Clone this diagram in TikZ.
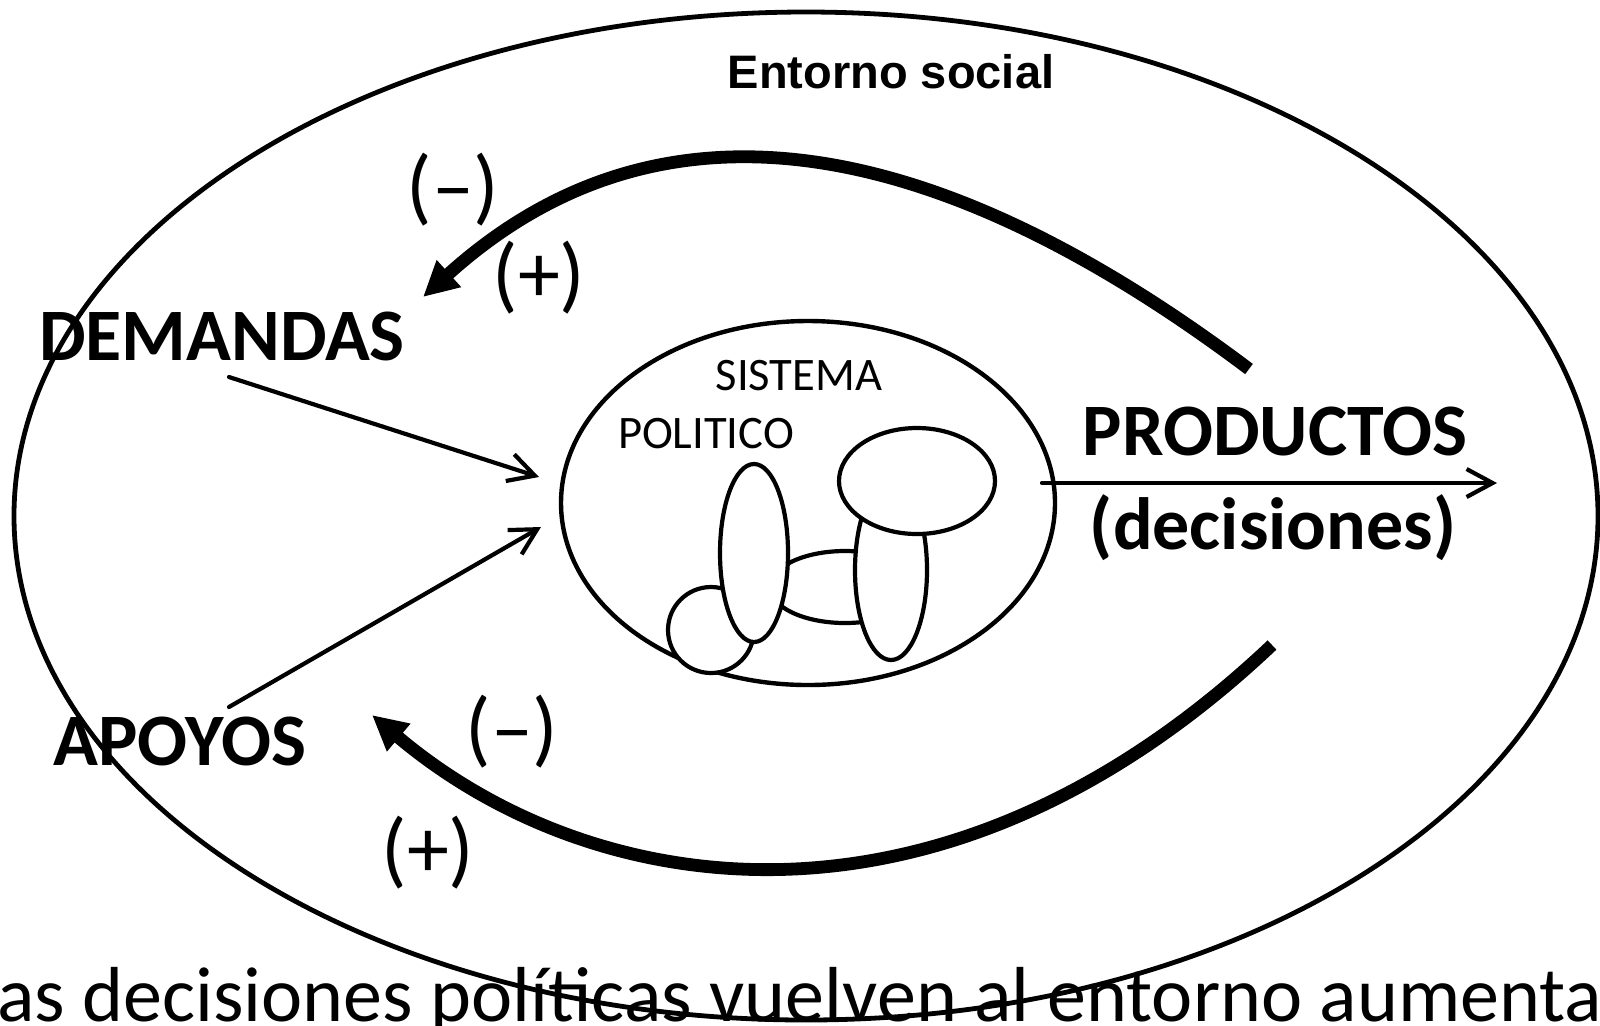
\documentclass[tikz,border=0pt]{standalone}
\usepackage{fontspec}
\setmainfont{Carlito}
\newfontfamily\arialfont{Liberation Sans}
\usetikzlibrary{arrows.meta,shapes.geometric}
\tikzset{
  outerline/.style={line width=2.4pt},
  shapeline/.style={line width=2.1pt, fill=white},
  inarrow/.style={line width=2.1pt, line cap=round, -{Straight Barb[length=13pt,width=14pt]}},
  fbarrow/.style={line width=6.4pt, -{Triangle[length=17.5pt,width=17pt]}},
  bigbold/.style={font=\bfseries\fontsize{37pt}{44pt}\selectfont, inner sep=0pt},
  smalltext/.style={font=\fontsize{23.3pt}{28pt}\selectfont, inner sep=0pt},
  signtext/.style={font=\fontsize{42pt}{50pt}\selectfont, inner sep=0pt},
  titletext/.style={font=\arialfont\bfseries\fontsize{23.5pt}{28pt}\selectfont, inner sep=0pt},
  bottomtext/.style={font=\fontsize{39pt}{46pt}\selectfont, inner sep=0pt}
}
\begin{document}
\begin{tikzpicture}[x=0.5pt,y=-0.5pt]
\useasboundingbox (0,0) rectangle (1600,1025);
\fill[white] (0,0) rectangle (1600,1025);
\begin{scope}
\clip (0,0) rectangle (1600,1025);

% outer environment ellipse
\draw[outerline] (806,516) ellipse [x radius=396pt, y radius=252pt];

% political system
\node[draw, ellipse, line width=2.2pt, minimum width=247pt, minimum height=182pt, inner sep=0pt] (sis) at (808,503) {};
\node[smalltext, anchor=base] (sistema) at (799,390) {SISTEMA};
\node[smalltext, anchor=base] (politico) at (706,448) {POLITICO};

% inner components
\draw[shapeline] (845,587) ellipse [x radius=37.5pt, y radius=18pt];
\draw[shapeline] (711,630) circle [radius=21.5pt];
\draw[shapeline] (754,553) ellipse [x radius=17pt, y radius=44.5pt];
\draw[shapeline] (891,570) ellipse [x radius=18pt, y radius=45pt];
\draw[shapeline] (917,481) ellipse [x radius=39pt, y radius=26.5pt];

% labels
\node[titletext, anchor=base] (entorno) at (891,88) {Entorno social};
\node[bigbold, anchor=base] (demandas) at (222,360) {DEMANDAS};
\node[bigbold, anchor=base] (apoyos) at (180,765) {APOYOS};
\node[bigbold, anchor=base] (productos) at (1275,455) {PRODUCTOS};
\node[bigbold, anchor=base] (decisiones) at (1273,549) {(decisiones)};
\node[signtext] (m1) at (453,190) {(–)};
\node[signtext] (p1) at (539,278) {(+)};
\node[signtext] (m2) at (512,732) {(–)};
\node[signtext] (p2) at (428,853) {(+)};
\node[bottomtext, anchor=base west] (caption) at (-36,1021) {Las decisiones políticas vuelven al entorno aumenta};

% input / output arrows
\coordinate (dStart) at (229,377);
\coordinate (dEnd) at (539,477);
\coordinate (aStart) at (229,707);
\coordinate (aEnd) at (541,527);
\coordinate (pStart) at (1042,483);
\coordinate (pEnd) at (1497,483);
\draw[inarrow] (dStart) -- (dEnd);
\draw[inarrow] (aStart) -- (aEnd);
\draw[inarrow] (pStart) -- (pEnd);

% feedback arcs
\coordinate (uS) at (1249,369);
\coordinate (uC1) at (923,124);
\coordinate (uC2) at (653,89);
\coordinate (uE) at (423,297);
\draw[fbarrow] (uS) .. controls (uC1) and (uC2) .. (uE);

\coordinate (lS) at (1272,645);
\coordinate (lC1) at (941,958);
\coordinate (lC2) at (591,900);
\coordinate (lE) at (372,715);
\draw[fbarrow] (lS) .. controls (lC1) and (lC2) .. (lE);
\end{scope}
\end{tikzpicture}
\end{document}
